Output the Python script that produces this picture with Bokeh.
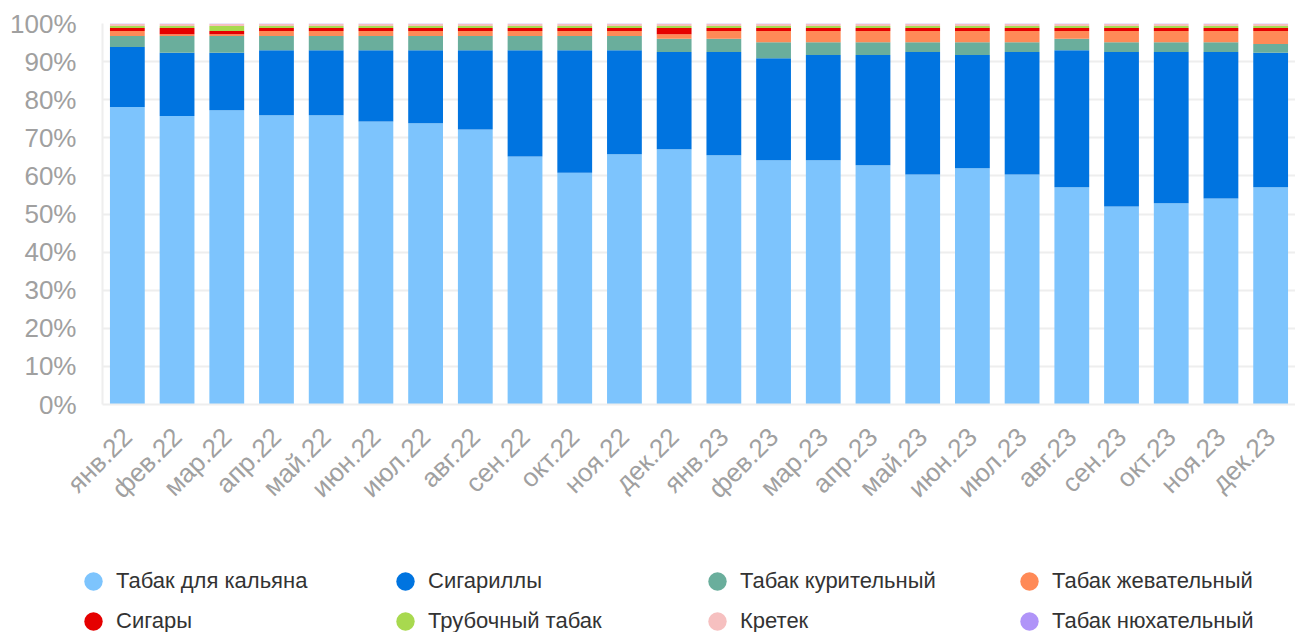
from bokeh.plotting import figure
from bokeh.models import ColumnDataSource, Legend, LegendItem, FactorRange, PrintfTickFormatter, FixedTicker, Range1d
from bokeh.embed import file_html
from bokeh.resources import INLINE
from math import pi

months = ["янв.22", "фев.22", "мар.22", "апр.22", "май.22", "июн.22", "июл.22", "авг.22",
          "сен.22", "окт.22", "ноя.22", "дек.22", "янв.23", "фев.23", "мар.23", "апр.23",
          "май.23", "июн.23", "июл.23", "авг.23", "сен.23", "окт.23", "ноя.23", "дек.23"]

series_names = ["Табак для кальяна", "Сигариллы", "Табак курительный", "Табак жевательный",
                "Сигары", "Трубочный табак", "Кретек", "Табак нюхательный"]

hookah = [78.1, 75.7, 77.2, 75.9, 75.9, 74.3, 73.8, 72.2, 65.1, 60.8, 65.7, 67.0,
          65.4, 64.1, 64.1, 62.8, 60.4, 62.0, 60.4, 57.0, 52.0, 52.8, 54.1, 57.0]
cigarillos = [15.7, 16.6, 15.1, 17.1, 17.1, 18.7, 19.2, 20.8, 27.9, 32.2, 27.3, 25.5,
              27.1, 26.8, 27.6, 28.9, 32.1, 29.7, 32.1, 36.0, 40.5, 39.7, 38.4, 35.3]
smoking = [2.9, 4.4, 4.4, 3.7, 3.7, 3.7, 3.7, 3.7, 3.7, 3.7, 3.7, 3.5,
           3.5, 4.2, 3.4, 3.4, 2.6, 3.4, 2.6, 3.0, 2.6, 2.6, 2.6, 2.3]
chewing = [1.3, 0.5, 0.5, 1.3, 1.3, 1.3, 1.3, 1.3, 1.3, 1.3, 1.3, 1.2,
           2.0, 2.9, 2.9, 2.9, 2.9, 2.9, 2.9, 2.0, 2.9, 2.9, 2.9, 3.4]
cigars = [0.8, 1.6, 0.8, 0.8, 0.8, 0.8, 0.8, 0.8, 0.8, 0.8, 0.8, 1.6,
          0.8, 0.8, 0.8, 0.8, 0.8, 0.8, 0.8, 0.8, 0.8, 0.8, 0.8, 0.8]
pipe = [0.55, 0.55, 1.35, 0.55, 0.55, 0.55, 0.55, 0.55, 0.55, 0.55, 0.55, 0.55,
        0.55, 0.55, 0.55, 0.55, 0.55, 0.55, 0.55, 0.55, 0.55, 0.55, 0.55, 0.55]
kretek = [0.55, 0.55, 0.55, 0.55, 0.55, 0.55, 0.55, 0.55, 0.55, 0.55, 0.55, 0.55,
          0.55, 0.55, 0.55, 0.55, 0.55, 0.55, 0.55, 0.55, 0.55, 0.55, 0.55, 0.55]
snuff = [0.1, 0.1, 0.1, 0.1, 0.1, 0.1, 0.1, 0.1, 0.1, 0.1, 0.1, 0.1,
         0.1, 0.1, 0.1, 0.1, 0.1, 0.1, 0.1, 0.1, 0.1, 0.1, 0.1, 0.1]

colors = ["#7dc4fd", "#0074e0", "#6aae9c", "#ff8a57", "#e50000", "#a8d94f", "#f6c0c0", "#b094f8"]

all_series = [hookah, cigarillos, smoking, chewing, cigars, pipe, kretek, snuff]
keys = ["s%d" % i for i in range(len(all_series))]
totals = [sum(vals) for vals in zip(*all_series)]
data = {"month": months}
for k, s in zip(keys, all_series):
    data[k] = [v / t * 100 for v, t in zip(s, totals)]
source = ColumnDataSource(data)

FONT = "Liberation Sans"
LEFT = 102

p = figure(x_range=FactorRange(*months, range_padding=0), y_range=(0, 100),
           width=1295, height=550, output_backend="svg", toolbar_location=None,
           min_border_left=LEFT, min_border_right=0, min_border_top=23, min_border_bottom=146)

p.vbar_stack(keys, x="month", width=0.7, color=colors, source=source, line_width=0)

p.outline_line_color = None
p.xgrid.grid_line_color = None
p.ygrid.grid_line_color = "#eeeeee"
p.ygrid.grid_line_width = 2
p.yaxis.ticker = FixedTicker(ticks=[0, 10, 20, 30, 40, 50, 60, 70, 80, 90, 100])
p.yaxis.formatter = PrintfTickFormatter(format="%d%%")
p.yaxis.axis_line_color = "#eeeeee"
p.yaxis.axis_line_width = 2
p.xaxis.axis_line_color = "#eeeeee"
p.xaxis.axis_line_width = 2
for ax in (p.xaxis, p.yaxis):
    ax.major_tick_line_color = None
    ax.minor_tick_line_color = None
    ax.major_tick_out = 0
    ax.major_tick_in = 0
    ax.major_label_text_font = FONT
    ax.major_label_text_color = "#a0a0a0"
p.yaxis.major_label_text_font_size = "26px"
p.xaxis.major_label_text_font_size = "26px"
p.yaxis.major_label_standoff = 26
p.xaxis.major_label_standoff = 28
p.xaxis.major_label_orientation = pi / 4

# legend figure (separate root, so its frame is not aligned with the chart's)
lg = figure(width=1295, height=82, output_backend="svg", toolbar_location=None,
            x_range=Range1d(0, 1), y_range=Range1d(0, 1),
            x_axis_location=None, y_axis_location=None,
            min_border_left=0, min_border_right=0, min_border_top=0, min_border_bottom=0)
lg.outline_line_color = None
lg.xgrid.grid_line_color = None
lg.ygrid.grid_line_color = None

nan = float("nan")
items = []
for name, col in zip(series_names, colors):
    r = lg.scatter(x=[nan], y=[nan], marker="circle", size=19, fill_color=col, line_color=None)
    items.append(LegendItem(label=name, renderers=[r]))

for row, vy in ((0, 27), (1, -13)):
    legend = Legend(items=items[row * 4:(row + 1) * 4], orientation="horizontal",
                    location=(93 - 23, vy), margin=0, padding=0, spacing=0,
                    glyph_width=46, glyph_height=48, label_standoff=0, label_width=266,
                    label_text_font=FONT, label_text_font_size="22px", label_text_color="#333333",
                    border_line_color=None, background_fill_alpha=0)
    lg.add_layout(legend, "center")

open("out.html", "w").write(file_html([p, lg], INLINE))
